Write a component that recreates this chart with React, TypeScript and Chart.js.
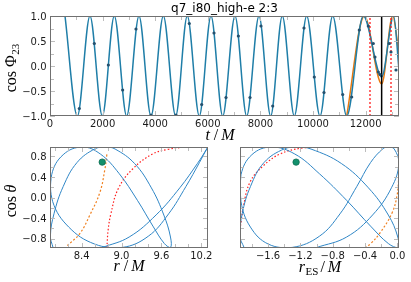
import React, { useEffect, useRef } from 'react';
import { Chart, registerables } from 'chart.js';

Chart.register(...registerables);

const W = 411;
const H = 282;

// ---------------- top panel: cos Phi_23 versus t/M ----------------
const tExtrema = [570, 1040, 1520, 1990, 2445, 2915, 3384, 3840, 4310, 4778, 5220, 5677, 6122, 6567, 7034, 7478, 7947, 8390, 8833, 9289, 9760, 10266, 10749, 11281, 11913, 12610, 13067, 13270];
const cosPhiExtrema = [1, -1, 1, -1, 1, -1, 1, -1, 1, -1, 1, -1, 1, -1, 1, -1, 1, -1, 1, -1, 1, -1, 1, -1, 1, -0.22, 1, -0.08];
const tOrange = [11281, 11950, 12610, 13030, 13270];
const cosPhiOrange = [-1, 1, -0.36, 1, 0.25];
const tDots = [1115, 1686, 2218, 2763, 3270, 3840, 4790, 5297, 5767, 6236, 6692, 7161, 7605, 8023, 8468, 9658, 10049, 10418, 11129, 11471, 11761, 12103, 12293, 12357, 12483, 12548, 12901, 12966, 13156];
const cosPhiDots = [-0.85, 0.45, 0.02, -0.48, 0.74, -0.98, -0.98, 0.85, -0.77, 0.66, -0.63, 0.6, -0.63, 0.8, -0.8, 0.76, -0.22, -0.53, -0.57, -0.62, 0.72, 0.8, 0.45, 0.18, -0.12, -0.17, 0.45, 0.28, -0.08];
const tRedMarks = [12167, 12966];
const tBlackMark = [12610];
const topTMin = 0;
const topTMax = 13270;
const topTTicks = [0, 1000, 2000, 3000, 4000, 5000, 6000, 7000, 8000, 9000, 10000, 11000, 12000, 13000];
const topTLabels = [0, 2000, 4000, 6000, 8000, 10000, 12000];
const topCosTicks = [-1, -0.75, -0.5, -0.25, 0, 0.25, 0.5, 0.75, 1];
const topCosLabels = [-1, -0.5, 0, 0.5, 1];

// ---------------- bottom panels: orbit ----------------
const rOrbit = [7.97, 7.931, 7.985, 8.123, 8.331, 8.604, 8.761, 8.904, 9.196, 9.449, 9.636, 9.736, 9.736, 9.644, 9.472, 9.239, 8.966, 8.682, 8.413, 8.123, 7.95, 7.965, 8.207, 8.596, 9.012, 9.402, 9.708, 9.967, 10.171, 10.282, 10.3, 10.282, 10.141, 9.877, 9.52, 9.115, 8.71];
const rESOrbit = [-1.897, -1.949, -1.92, -1.818, -1.65, -1.396, -1.237, -1.068, -0.693, -0.358, -0.112, 0.005, 0.005, -0.112, -0.332, -0.628, -0.965, -1.269, -1.558, -1.8, -1.935, -1.935, -1.818, -1.598, -1.302, -0.965, -0.71, -0.503, -0.332, -0.178, -0.112, -0.039, 0.019, -0.073, -0.306, -0.628, -1.0];
const cosThetaOrbit = [-0.974, -0.755, -0.317, 0.213, 0.682, 0.952, 0.985, 0.945, 0.663, 0.188, -0.342, -0.771, -0.977, -0.898, -0.558, -0.055, 0.464, 0.848, 0.985, 0.835, 0.442, -0.079, -0.577, -0.908, -0.974, -0.756, -0.319, 0.212, 0.681, 0.952, 0.985, 0.946, 0.664, 0.19, -0.34, -0.771, -0.977];

const rOrangeL = [8.78, 8.75, 8.675, 8.525, 8.375, 8.175];
const cosOrangeL = [0.84, 0.55, 0.1, -0.34, -0.7, -0.95];
const rRedL = [8.78, 8.8, 8.84, 8.95, 9.17, 9.47, 9.7, 9.93];
const cosRedL = [-0.98, -0.62, -0.32, 0.17, 0.56, 0.85, 0.94, 0.98];
const rESOrangeR = [-0.4, -0.33, -0.21, -0.066, -0.004, 0.018];
const cosOrangeR = [-0.985, -0.9, -0.68, -0.3, 0.04, 0.4];
const rESRedR = [-1.947, -1.93, -1.906, -1.823, -1.658, -1.45, -1.2, -0.95];
const cosRedR = [-0.62, -0.44, -0.18, 0.3, 0.62, 0.85, 0.96, 0.985];
const greenR = [8.71];
const greenRES = [-1.253];
const greenCos = [0.69];

const rMin = 7.925;
const rMax = 10.3;
const rESMin = -1.947;
const rESMax = 0.02;
const cosMin = -0.985;
const cosMax = 0.985;
const rTicks = [8.0, 8.2, 8.4, 8.6, 8.8, 9.0, 9.2, 9.4, 9.6, 9.8, 10.0, 10.2];
const rLabels = [8.4, 9.0, 9.6, 10.2];
const rESTicks = [-1.8, -1.6, -1.4, -1.2, -1.0, -0.8, -0.6, -0.4, -0.2, 0.0];
const rESLabels = [-1.6, -1.2, -0.8, -0.4, 0.0];
const cosThetaTicks = [-0.8, -0.6, -0.4, -0.2, 0, 0.2, 0.4, 0.6, 0.8];
const cosThetaLabels = [-0.8, -0.4, 0, 0.4, 0.8];

// ---------------- helpers ----------------
const pts = (xs: number[], ys: number[]) => xs.map((x, i) => ({ x, y: ys[i] }));
const vline = (x: number, y0: number, y1: number) => [{ x, y: y0 }, { x, y: y1 }];
const fmt = (v: number, d: number) => (Math.abs(v) < 1e-9 ? 0 : v).toFixed(d).replace('-', '\u2212');

const TICK_FONT = '10px "DejaVu Sans"';
const TICK_COLOR = '#1a1a1a';
const SERIF = '"Liberation Serif", "DejaVu Serif", serif';

type Part = { t: string; font: string; dy?: number; gap?: number };

function drawParts(ctx: CanvasRenderingContext2D, parts: Part[], cx: number, cy: number, rotate: boolean) {
  ctx.save();
  ctx.translate(cx, cy);
  if (rotate) ctx.rotate(-Math.PI / 2);
  const widths = parts.map((p) => {
    ctx.font = p.font;
    return ctx.measureText(p.t).width;
  });
  const total = widths.reduce((a, w, i) => a + w + (parts[i].gap || 0), 0);
  let x = -total / 2;
  ctx.fillStyle = '#000';
  ctx.textBaseline = 'alphabetic';
  ctx.textAlign = 'left';
  parts.forEach((p, i) => {
    x += p.gap || 0;
    ctx.font = p.font;
    ctx.fillText(p.t, x, p.dy || 0);
    x += widths[i];
  });
  ctx.restore();
}

type AxisSpec = { ticks: number[]; labels: number[]; digits: number; show: boolean };
const isIn = (v: number, arr: number[]) => arr.some((a) => Math.abs(a - v) < 1e-9);

function framePlugin(xa: AxisSpec, ya: AxisSpec, extra: (ctx: CanvasRenderingContext2D) => void) {
  return {
    id: 'mplFrame',
    afterDatasetsDraw(chart: any) {
      const { ctx, chartArea } = chart;
      const l = Math.round(chartArea.left);
      const r = Math.round(chartArea.right);
      const t = Math.round(chartArea.top);
      const b = Math.round(chartArea.bottom);
      const xs = chart.scales.x;
      const ys = chart.scales.y;
      ctx.save();
      // inward tick marks on all four sides
      ctx.strokeStyle = '#bdbdbd';
      ctx.lineWidth = 1;
      ctx.beginPath();
      for (const v of xa.ticks) {
        const p = Math.round(xs.getPixelForValue(v)) + 0.5;
        const len = isIn(v, xa.labels) ? 5 : 4;
        ctx.moveTo(p, b);
        ctx.lineTo(p, b - len);
        ctx.moveTo(p, t);
        ctx.lineTo(p, t + len);
      }
      for (const v of ya.ticks) {
        const p = Math.round(ys.getPixelForValue(v)) + 0.5;
        const len = isIn(v, ya.labels) ? 5 : 4;
        ctx.moveTo(l, p);
        ctx.lineTo(l + len, p);
        ctx.moveTo(r, p);
        ctx.lineTo(r - len, p);
      }
      ctx.stroke();
      // spines
      ctx.strokeStyle = '#707070';
      ctx.strokeRect(l + 0.5, t + 0.5, r - l - 1, b - t - 1);
      // tick labels
      ctx.fillStyle = TICK_COLOR;
      ctx.font = TICK_FONT;
      ctx.textBaseline = 'alphabetic';
      if (xa.show) {
        ctx.textAlign = 'center';
        for (const v of xa.labels) ctx.fillText(fmt(v, xa.digits), xs.getPixelForValue(v), b + 10.5);
      }
      if (ya.show) {
        ctx.textAlign = 'right';
        for (const v of ya.labels) ctx.fillText(fmt(v, ya.digits), l - 3.5, ys.getPixelForValue(v) + 3.6);
      }
      extra(ctx);
      ctx.restore();
    },
  };
}

const X_BOX = 16;
const Y_BOX = 46;

function scaleOf(pos: 'bottom' | 'left', min: number, max: number, tickValues: number[]) {
  return {
    type: 'linear',
    position: pos,
    min,
    max,
    afterBuildTicks: (s: any) => {
      s.ticks = tickValues.map((value) => ({ value }));
    },
    afterFit: (s: any) => {
      if (pos === 'bottom') s.height = X_BOX;
      else s.width = Y_BOX;
    },
    grid: { display: false, drawTicks: false },
    border: { display: false },
    ticks: { display: false },
  };
}

function baseOptions(area: { l: number; t: number; r: number; b: number }, x: any, y: any) {
  return {
    animation: false,
    responsive: false,
    devicePixelRatio: 1,
    events: [],
    layout: { padding: { left: area.l - Y_BOX, top: area.t, right: W - area.r, bottom: H - area.b - X_BOX } },
    plugins: { legend: { display: false }, tooltip: { enabled: false }, title: { display: false } },
    scales: { x, y },
  };
}

const lineDs = (data: any[], color: string, width: number, extra: any = {}) => ({
  data,
  showLine: true,
  borderColor: color,
  backgroundColor: color,
  borderWidth: width,
  pointRadius: 0,
  fill: false,
  ...extra,
});

const greenDs = (data: any[]) => ({
  data,
  showLine: false,
  pointRadius: 3.2,
  pointBorderWidth: 0.8,
  pointBackgroundColor: '#13906c',
  pointBorderColor: '#0d6e52',
  order: 0,
});

export default function App() {
  const topRef = useRef<HTMLCanvasElement>(null);
  const blRef = useRef<HTMLCanvasElement>(null);
  const brRef = useRef<HTMLCanvasElement>(null);

  useEffect(() => {
    const charts: Chart[] = [];

    // ---- top panel ----
    charts.push(
      new Chart(topRef.current as HTMLCanvasElement, {
        type: 'scatter',
        data: {
          datasets: [
            lineDs(vline(tRedMarks[0], -1, 1), '#ff1a1a', 1.3, { borderDash: [2, 2], order: 1 }),
            lineDs(vline(tRedMarks[1], -1, 1), '#ff1a1a', 1.3, { borderDash: [2, 2], order: 1 }),
            lineDs(vline(tBlackMark[0], -1, 1), '#000000', 1.5, { order: 1 }),
            {
              data: pts(tDots, cosPhiDots),
              showLine: false,
              pointRadius: 1.6,
              pointBorderWidth: 0,
              pointBackgroundColor: '#24506e',
              order: 0,
            },
            lineDs(pts(tExtrema, cosPhiExtrema), '#1f7ea8', 1.5, { cubicInterpolationMode: 'monotone', order: 2 }),
            lineDs(pts(tOrange, cosPhiOrange), '#e8790f', 1.5, { cubicInterpolationMode: 'monotone', order: 3 }),
          ],
        },
        options: baseOptions(
          { l: 50, t: 16, r: 399, b: 116 },
          scaleOf('bottom', topTMin, topTMax, topTTicks),
          scaleOf('left', -1, 1, topCosTicks)
        ) as any,
        plugins: [
          framePlugin(
            { ticks: topTTicks, labels: topTLabels, digits: 0, show: true },
            { ticks: topCosTicks, labels: topCosLabels, digits: 1, show: true },
            (ctx) => {
              ctx.fillStyle = '#000';
              ctx.font = '12px "DejaVu Sans"';
              ctx.textAlign = 'center';
              ctx.textBaseline = 'alphabetic';
              ctx.fillText('q7_i80_high-e 2:3', 224.5, 12);
              drawParts(
                ctx,
                [
                  { t: 'cos', font: `16px ${SERIF}` },
                  { t: 'Φ', font: `16px ${SERIF}`, gap: 4 },
                  { t: '23', font: `11px ${SERIF}`, dy: 3.5, gap: 0.5 },
                ],
                15.5,
                68,
                true
              );
              drawParts(
                ctx,
                [
                  { t: 't', font: `italic 16px ${SERIF}` },
                  { t: '/', font: `16px ${SERIF}`, gap: 4 },
                  { t: 'M', font: `italic 16px ${SERIF}`, gap: 3 },
                ],
                220,
                140,
                false
              );
            }
          ) as any,
        ],
      })
    );

    // ---- bottom left: r/M ----
    charts.push(
      new Chart(blRef.current as HTMLCanvasElement, {
        type: 'scatter',
        data: {
          datasets: [
            greenDs(pts(greenR, greenCos)),
            lineDs(pts(rOrbit, cosThetaOrbit), '#2f86c6', 1, { tension: 0.4, order: 1 }),
            lineDs(pts(rOrangeL, cosOrangeL), '#f08020', 1.2, { tension: 0.4, borderDash: [2, 2], order: 2 }),
            lineDs(pts(rRedL, cosRedL), '#ff2020', 1.2, { tension: 0.4, borderDash: [1.5, 2], order: 2 }),
          ],
        },
        options: baseOptions(
          { l: 50, t: 147, r: 208, b: 248 },
          scaleOf('bottom', rMin, rMax, rTicks),
          scaleOf('left', cosMin, cosMax, cosThetaTicks)
        ) as any,
        plugins: [
          framePlugin(
            { ticks: rTicks, labels: rLabels, digits: 1, show: true },
            { ticks: cosThetaTicks, labels: cosThetaLabels, digits: 1, show: true },
            (ctx) => {
              drawParts(
                ctx,
                [
                  { t: 'cos', font: `16px ${SERIF}` },
                  { t: 'θ', font: `italic 16px ${SERIF}`, gap: 3.5 },
                ],
                15.5,
                201,
                true
              );
              drawParts(
                ctx,
                [
                  { t: 'r', font: `italic 16px ${SERIF}` },
                  { t: '/', font: `16px ${SERIF}`, gap: 4 },
                  { t: 'M', font: `italic 16px ${SERIF}`, gap: 3 },
                ],
                129,
                271,
                false
              );
            }
          ) as any,
        ],
      })
    );

    // ---- bottom right: r_ES/M ----
    charts.push(
      new Chart(brRef.current as HTMLCanvasElement, {
        type: 'scatter',
        data: {
          datasets: [
            greenDs(pts(greenRES, greenCos)),
            lineDs(pts(rESOrbit, cosThetaOrbit), '#2f86c6', 1, { tension: 0.4, order: 1 }),
            lineDs(pts(rESOrangeR, cosOrangeR), '#f08020', 1.2, { tension: 0.4, borderDash: [2, 2], order: 2 }),
            lineDs(pts(rESRedR, cosRedR), '#ff2020', 1.2, { tension: 0.4, borderDash: [1.5, 2], order: 2 }),
          ],
        },
        options: baseOptions(
          { l: 240, t: 147, r: 399, b: 248 },
          scaleOf('bottom', rESMin, rESMax, rESTicks),
          scaleOf('left', cosMin, cosMax, cosThetaTicks)
        ) as any,
        plugins: [
          framePlugin(
            { ticks: rESTicks, labels: rESLabels, digits: 1, show: true },
            { ticks: cosThetaTicks, labels: cosThetaLabels, digits: 1, show: false },
            (ctx) => {
              drawParts(
                ctx,
                [
                  { t: 'r', font: `italic 16px ${SERIF}` },
                  { t: 'ES', font: `11px ${SERIF}`, dy: 3, gap: 0.5 },
                  { t: '/', font: `16px ${SERIF}`, gap: 2 },
                  { t: 'M', font: `italic 16px ${SERIF}`, gap: 3 },
                ],
                320,
                272,
                false
              );
            }
          ) as any,
        ],
      })
    );

    return () => {
      charts.forEach((c) => c.destroy());
    };
  }, []);

  const cs: React.CSSProperties = { position: 'absolute', left: 0, top: 0, width: W, height: H };
  return (
    <div style={{ position: 'absolute', left: 0, top: 0, width: W, height: H, background: '#ffffff', overflow: 'hidden' }}>
      <canvas ref={topRef} width={W} height={H} style={cs} />
      <canvas ref={blRef} width={W} height={H} style={cs} />
      <canvas ref={brRef} width={W} height={H} style={cs} />
    </div>
  );
}
